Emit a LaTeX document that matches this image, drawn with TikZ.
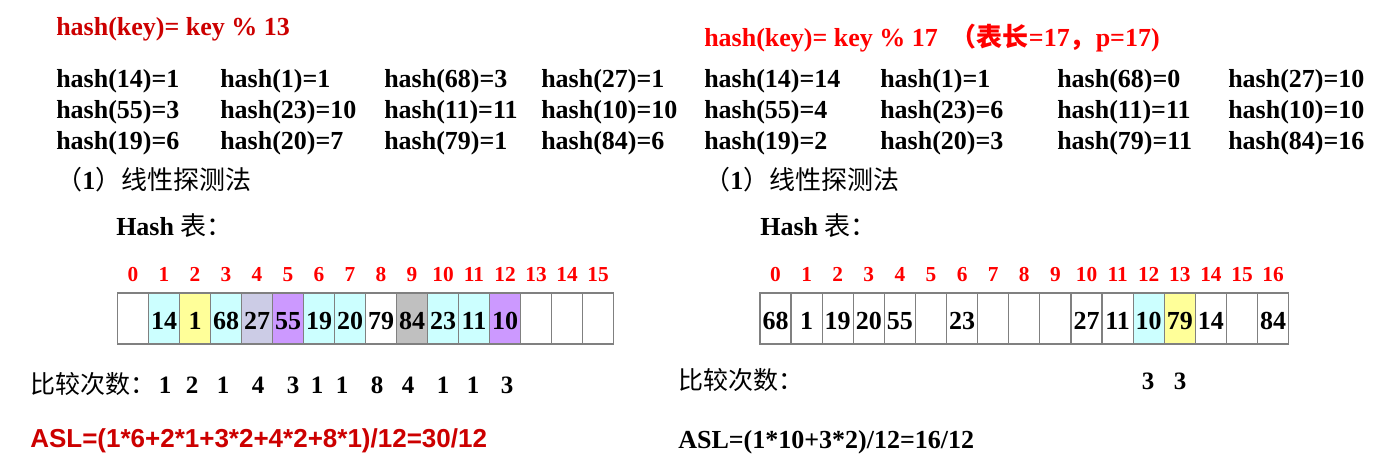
\documentclass[tikz,border=0pt]{standalone}
\usepackage{fontspec}
\setmainfont{Liberation Serif}
\newfontfamily\cjk{Noto Sans CJK SC}
\newfontfamily\sansf{Liberation Sans}
\usetikzlibrary{positioning}
\definecolor{hashred}{RGB}{204, 0, 0}
\definecolor{idxred}{RGB}{255, 0, 0}
\definecolor{cellcyan}{RGB}{204, 255, 255}
\definecolor{cellyellow}{RGB}{255, 255, 153}
\definecolor{celllav}{RGB}{204, 204, 230}
\definecolor{cellpurple}{RGB}{204, 153, 255}
\definecolor{cellgray}{RGB}{192, 192, 192}
\definecolor{cellline}{RGB}{128, 128, 128}
\tikzset{
  txt/.style={anchor=base west, inner sep=0pt, font=\fontsize{19.5}{22}\selectfont\bfseries},
  cjktxt/.style={anchor=base west, inner sep=0pt, font=\cjk\fontsize{19.5}{22}\selectfont},
  cell/.style={draw=cellline, line width=0.9pt, inner sep=0pt, minimum height=38.25pt,
    text height=17.25pt, text depth=0pt, font=\fontsize{19.5}{20}\selectfont\bfseries},
  idx/.style={anchor=base, inner sep=0pt, text=idxred, font=\fontsize{16}{18}\selectfont\bfseries},
  cmpnum/.style={anchor=base, inner sep=0pt, font=\fontsize{18.75}{20}\selectfont\bfseries}
}

\begin{document}
\begin{tikzpicture}[x=0.75pt, y=-0.75pt]
\useasboundingbox (0,0) rectangle (1387,473);

% Left side - table length 16, p=13
\node[txt, text=hashred] (ltitle) at (56,36) {hash(key)= key \% 13};
\foreach \t/\x/\y [count=\k] in {hash(14)=1/56/88, hash(1)=1/220/88, hash(68)=3/384/88, hash(27)=1/541/88,
    hash(55)=3/56/119, hash(23)=10/220/119, hash(11)=11/384/119, hash(10)=10/541/119,
    hash(19)=6/56/149.5, hash(20)=7/220/149.5, hash(79)=1/384/149.5, hash(84)=6/541/149.5} {
  \node[txt] (lh\k) at (\x,\y) {\t};
}
\node[cjktxt] (lmethod) at (56,190) {（{\rmfamily\bfseries 1}）线性探测法};
\node[txt] (lhash) at (116,236) {Hash {\cjk\mdseries 表：}};

% Left hash table
\foreach \v/\c [count=\i from 0] in {/white, 14/cellcyan, 1/cellyellow, 68/cellcyan, 27/celllav,
    55/cellpurple, 19/cellcyan, 20/cellcyan, 79/white, 84/cellgray, 23/cellcyan, 11/cellcyan,
    10/cellpurple, /white, /white, /white} {
  \node[cell, minimum width=23.25pt, fill=\c] (L\i) at ({133+31*\i},318.5) {\v};
  \node[idx] (Lidx\i) at ({133+31*\i},282) {\i};
}

\node[anchor=base west, inner sep=0pt, font=\cjk\fontsize{18.75}{20}\selectfont] (lcmp) at (30,393) {比较次数：};
\foreach \x/\n [count=\k] in {165/1, 192/2, 223/1, 258/4, 293/3, 317/1, 342/1, 377/8, 408/4, 443/1, 473/1, 507/3} {
  \node[cmpnum] (lc\k) at (\x,393) {\n};
}
\node[txt, font=\sansf\bfseries\fontsize{19.5}{22}\selectfont, text=hashred] (lasl) at (30,447) {ASL=(1*6+2*1+3*2+4*2+8*1)/12=30/12};

% Right side - table length 17, p=17
\node[txt, text=idxred] (rtitle) at (704,47) {hash(key)= key \% 17\ \ {\cjk （表长}=17{\cjk ，}p=17)};
\foreach \t/\x/\y [count=\k] in {hash(14)=14/704/88, hash(1)=1/880/88, hash(68)=0/1057/88, hash(27)=10/1228/88,
    hash(55)=4/704/119, hash(23)=6/880/119, hash(11)=11/1057/119, hash(10)=10/1228/119,
    hash(19)=2/704/149.5, hash(20)=3/880/149.5, hash(79)=11/1057/149.5, hash(84)=16/1228/149.5} {
  \node[txt] (rh\k) at (\x,\y) {\t};
}
\node[cjktxt] (rmethod) at (704,190) {（{\rmfamily\bfseries 1}）线性探测法};
\node[txt] (rhash) at (760,236) {Hash {\cjk\mdseries 表：}};

% Right hash table
\foreach \v/\c [count=\i from 0] in {68/white, 1/white, 19/white, 20/white, 55/white, /white, 23/white,
    /white, /white, /white, 27/white, 11/white, 10/cellcyan, 79/cellyellow, 14/white, /white, 84/white} {
  \node[cell, minimum width=23.325pt, fill=\c] (R\i) at ({775.5+31.1*\i},318.5) {\v};
  \node[idx] (Ridx\i) at ({775.5+31.1*\i},282) {\i};
}

\node[anchor=base west, inner sep=0pt, font=\cjk\fontsize{18.75}{20}\selectfont] (rcmp) at (678,390) {比较次数：};
\node[cmpnum] (rc1) at (1148,390) {3};
\node[cmpnum] (rc2) at (1180,390) {3};
\node[txt] (rasl) at (678,448) {ASL=(1*10+3*2)/12=16/12};
\end{tikzpicture}
\end{document}
